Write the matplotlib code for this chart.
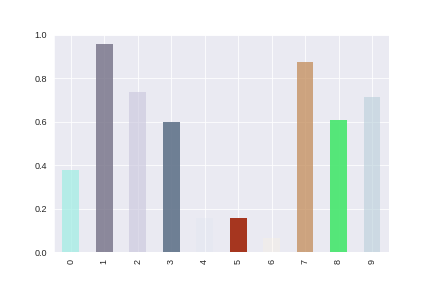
import numpy as np
import matplotlib
matplotlib.use('Agg')
import matplotlib.pyplot as plt
import seaborn as sns

sns.set_style('darkgrid')
plt.rcParams['font.family'] = ['Liberation Sans', 'DejaVu Sans']

labels = ['0', '1', '2', '3', '4', '5', '6', '7', '8', '9']
values = [0.378, 0.955, 0.735, 0.600, 0.155, 0.157, 0.063, 0.874, 0.606, 0.711]
colors = [
    (0.62, 0.93, 0.89, 0.7),
    (0.45, 0.44, 0.52, 0.8),
    (0.78, 0.77, 0.86, 0.6),
    (0.38, 0.45, 0.54, 0.9),
    (0.88, 0.90, 0.94, 0.3),
    (0.65, 0.21, 0.12, 1.0),
    (1.00, 0.95, 0.85, 0.25),
    (0.76, 0.55, 0.35, 0.75),
    (0.30, 0.90, 0.45, 0.95),
    (0.72, 0.81, 0.85, 0.6),
]

fig = plt.figure(figsize=(6, 4), dpi=72)
ax = fig.add_subplot(111)
x = np.arange(len(values))
ax.bar(x, values, width=0.5, color=colors, align='center', linewidth=0)
ax.set_xticks(x)
ax.set_xticklabels(labels, rotation=90)
ax.set_xlim(-0.5, len(values) - 0.5)
ax.set_ylim(0, 1.0)
ax.tick_params(labelsize=9)
fig.subplots_adjust(bottom=0.125)

fig.savefig('out.png', dpi=72)
